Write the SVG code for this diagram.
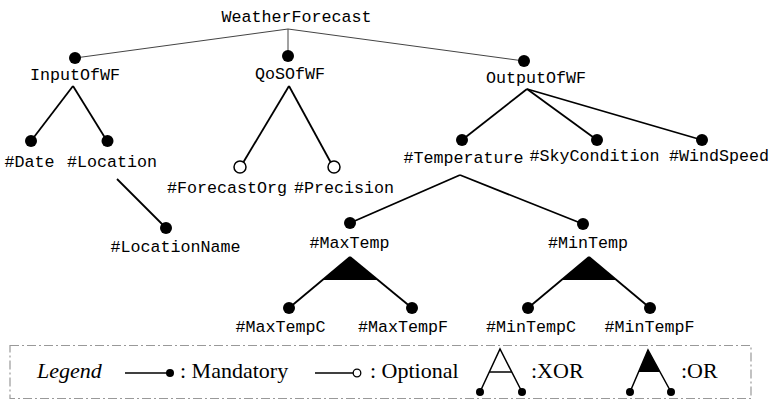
<svg xmlns="http://www.w3.org/2000/svg" width="772" height="402" viewBox="0 0 772 402">
<style>
.lbl{font-family:"Liberation Mono","DejaVu Sans Mono",monospace;font-size:16.7px;fill:#000;text-anchor:middle}
.leg{font-family:"Liberation Serif","Times New Roman",serif;font-size:22px;fill:#000}
.thin{stroke:#444;stroke-width:1;fill:none}
.edge{stroke:#000;stroke-width:1.8;fill:none}
.man{fill:#000}
.opt{fill:#fff;stroke:#000;stroke-width:1.5}
</style>
<rect width="772" height="402" fill="#fff"/>
<g id="connectors">
<line class="thin" x1="288" y1="29" x2="75" y2="58"/>
<line class="thin" x1="288" y1="29" x2="288" y2="56"/>
<line class="thin" x1="288" y1="29" x2="524" y2="61"/>
<line class="edge" x1="73" y1="86" x2="31" y2="141"/>
<line class="edge" x1="73" y1="86" x2="107" y2="141"/>
<line class="edge" x1="289" y1="86" x2="243.5" y2="162"/>
<line class="edge" x1="289" y1="86" x2="330.5" y2="162"/>
<line class="edge" x1="117" y1="179" x2="166" y2="228"/>
<line class="edge" x1="527" y1="89" x2="462" y2="140"/>
<line class="edge" x1="527" y1="89" x2="597" y2="140"/>
<line class="edge" x1="527" y1="89" x2="702" y2="140"/>
<line class="edge" x1="460" y1="175" x2="350" y2="223"/>
<line class="edge" x1="460" y1="175" x2="583" y2="224"/>
<line class="edge" x1="350" y1="257" x2="289" y2="308"/>
<line class="edge" x1="350" y1="257" x2="412" y2="308"/>
<polygon points="350,257 322.5,280 378,280" fill="#000"/>
<line class="edge" x1="589" y1="257" x2="528" y2="308"/>
<line class="edge" x1="589" y1="257" x2="650" y2="308"/>
<polygon points="589,257 561.5,280 616.5,280" fill="#000"/>
</g>
<g id="WeatherForecast"><text class="lbl" x="296.5" y="22">WeatherForecast</text></g>
<g id="InputOfWF"><circle class="man" cx="75" cy="58" r="6"/><text class="lbl" x="75" y="80">InputOfWF</text></g>
<g id="QoSOfWF"><circle class="man" cx="288" cy="56" r="6"/><text class="lbl" x="290" y="79">QoSOfWF</text></g>
<g id="OutputOfWF"><circle class="man" cx="524" cy="61" r="6"/><text class="lbl" x="536" y="83">OutputOfWF</text></g>
<g id="Date"><circle class="man" cx="31" cy="141" r="6"/><text class="lbl" x="29.5" y="167">#Date</text></g>
<g id="Location"><circle class="man" cx="107.5" cy="141" r="6"/><text class="lbl" x="112" y="167">#Location</text></g>
<g id="ForecastOrg"><circle class="opt" cx="240" cy="167" r="6"/><text class="lbl" x="227" y="193">#ForecastOrg</text></g>
<g id="Precision"><circle class="opt" cx="334" cy="167" r="6"/><text class="lbl" x="344" y="193">#Precision</text></g>
<g id="LocationName"><circle class="man" cx="166" cy="228" r="6"/><text class="lbl" x="175.5" y="252">#LocationName</text></g>
<g id="Temperature"><circle class="man" cx="462" cy="140" r="6"/><text class="lbl" x="463.5" y="163">#Temperature</text></g>
<g id="SkyCondition"><circle class="man" cx="597" cy="140" r="6"/><text class="lbl" x="594.5" y="161">#SkyCondition</text></g>
<g id="WindSpeed"><circle class="man" cx="702" cy="140" r="6"/><text class="lbl" x="719" y="161">#WindSpeed</text></g>
<g id="MaxTemp"><circle class="man" cx="350" cy="223" r="6"/><text class="lbl" x="349.5" y="248">#MaxTemp</text></g>
<g id="MinTemp"><circle class="man" cx="583" cy="224" r="6"/><text class="lbl" x="588" y="248">#MinTemp</text></g>
<g id="MaxTempC"><circle class="man" cx="289" cy="308" r="6"/><text class="lbl" x="280.5" y="332">#MaxTempC</text></g>
<g id="MaxTempF"><circle class="man" cx="412" cy="308" r="6"/><text class="lbl" x="403" y="332">#MaxTempF</text></g>
<g id="MinTempC"><circle class="man" cx="528" cy="308" r="6"/><text class="lbl" x="531" y="332">#MinTempC</text></g>
<g id="MinTempF"><circle class="man" cx="650" cy="308" r="6"/><text class="lbl" x="649.5" y="332">#MinTempF</text></g>
<g id="legend">
<rect x="10" y="345.5" width="741" height="53" fill="none" stroke="#999" stroke-width="1.2" stroke-dasharray="9,3,2,3"/>
<text class="leg" x="37" y="378" font-style="italic">Legend</text>
<line x1="125" y1="373" x2="168" y2="373" stroke="#000" stroke-width="1.5"/>
<circle cx="170" cy="373" r="4" fill="#000"/>
<text class="leg" x="180" y="378">: Mandatory</text>
<line x1="315" y1="373" x2="353" y2="373" stroke="#000" stroke-width="1.5"/>
<circle cx="357" cy="373" r="3.8" fill="#fff" stroke="#000" stroke-width="1.3"/>
<text class="leg" x="370" y="378">: Optional</text>
<polyline points="480,392 500,349 522,392" fill="none" stroke="#000" stroke-width="1.5"/>
<line x1="489.3" y1="372" x2="511.8" y2="372" stroke="#000" stroke-width="1.5"/>
<circle cx="480" cy="392" r="4" fill="#000"/>
<circle cx="522" cy="392" r="4" fill="#000"/>
<text class="leg" x="531" y="378">:XOR</text>
<polyline points="630,392 648,350 671,392" fill="none" stroke="#000" stroke-width="1.5"/>
<polygon points="648,350 638.6,372 660,372" fill="#000"/>
<circle cx="630" cy="392" r="4" fill="#000"/>
<circle cx="671" cy="392" r="4" fill="#000"/>
<text class="leg" x="681" y="378">:OR</text>
</g>
</svg>
